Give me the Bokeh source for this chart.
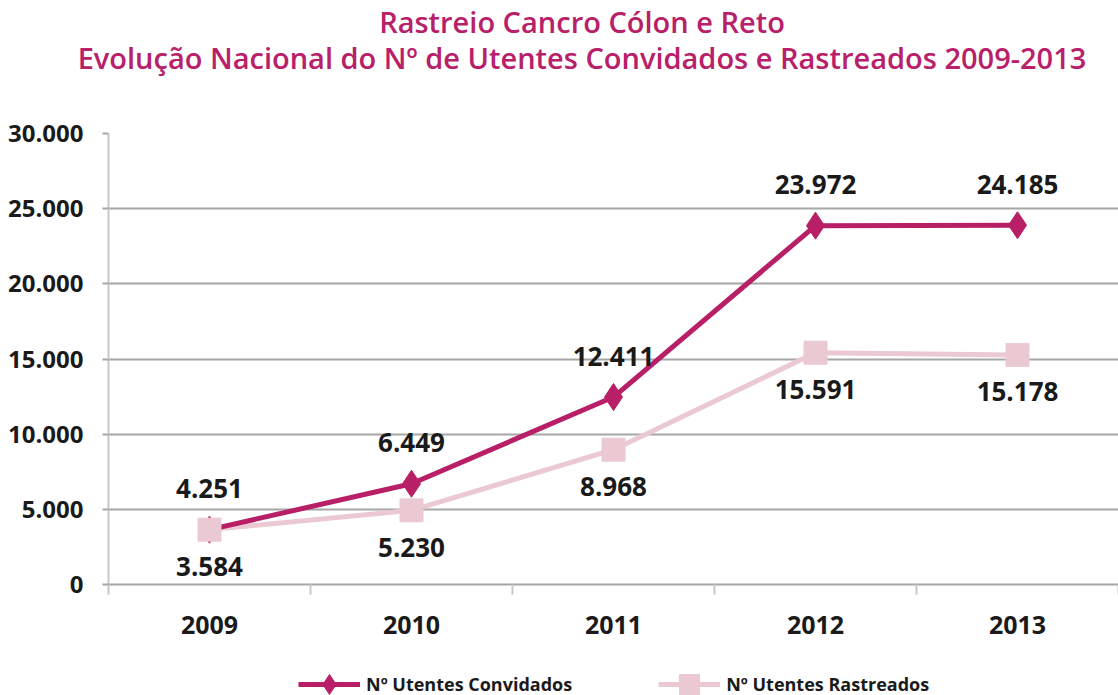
from bokeh.plotting import figure
from bokeh.models import ColumnDataSource, FixedTicker, Legend, LegendItem, Div, Range1d
from bokeh.layouts import column
from bokeh.embed import file_html
from bokeh.resources import INLINE
from bokeh.core.properties import value

# ---- data ----
years = ["2009", "2010", "2011", "2012", "2013"]
convidados = [3650, 6700, 12470, 23870, 23900]
convidados_labels = ["4.251", "6.449", "12.411", "23.972", "24.185"]
rastreados = [3650, 4930, 8968, 15420, 15270]
rastreados_labels = ["3.584", "5.230", "8.968", "15.591", "15.178"]
y_ticks = [0, 5000, 10000, 15000, 20000, 25000, 30000]
y_tick_labels = ["0", "5.000", "10.000", "15.000", "20.000", "25.000", "30.000"]

title_lines = ["Rastreio Cancro Cólon e Reto",
               "Evolução Nacional do Nº de Utentes Convidados e Rastreados 2009-2013"]
series_names = ["Nº Utentes Convidados", "Nº Utentes Rastreados"]

C_CONV = "#B81F66"
C_RAST = "#EBC9D3"
FONT = "Open Sans"
TXT = "#1A1A1A"

xc = [i + 0.5 for i in range(len(years))]
src_c = ColumnDataSource(dict(x=xc, y=convidados, t=convidados_labels))
src_r = ColumnDataSource(dict(x=xc, y=rastreados, t=rastreados_labels))

p = figure(width=1118, height=557, x_range=Range1d(0, len(years)), y_range=Range1d(0, 30000),
           output_backend="svg", toolbar_location=None,
           min_border_left=108, min_border_right=0, min_border_top=45, min_border_bottom=61)
p.margin = 0
p.outline_line_color = None
p.xgrid.grid_line_color = None
p.ygrid.grid_line_color = "#A6A6A6"
p.ygrid.grid_line_width = 2
p.ygrid.ticker = FixedTicker(ticks=y_ticks)

# y axis
p.yaxis.ticker = FixedTicker(ticks=y_ticks)
p.yaxis.major_label_overrides = {t: l for t, l in zip(y_ticks, y_tick_labels)}
p.yaxis.axis_line_color = "#C8C8C8"
p.yaxis.axis_line_width = 2
p.yaxis.major_tick_out = 6
p.yaxis.major_tick_in = 0
p.yaxis.major_tick_line_color = "#A6A6A6"
p.yaxis.major_tick_line_width = 2
p.yaxis.minor_tick_line_color = None
p.yaxis.major_label_standoff = 19
p.yaxis.major_label_text_font = FONT
p.yaxis.major_label_text_font_style = "bold"
p.yaxis.major_label_text_font_size = "24px"
p.yaxis.major_label_text_color = TXT

# x axis
p.xaxis.ticker = FixedTicker(ticks=xc, minor_ticks=list(range(len(years) + 1)))
p.xaxis.major_label_overrides = {x: y for x, y in zip(xc, years)}
p.xaxis.axis_line_color = "#A6A6A6"
p.xaxis.axis_line_width = 2
p.xaxis.major_tick_line_color = None
p.xaxis.major_tick_out = 0
p.xaxis.major_tick_in = 0
p.xaxis.minor_tick_out = 10
p.xaxis.minor_tick_in = 0
p.xaxis.minor_tick_line_color = "#C8C8C8"
p.xaxis.minor_tick_line_width = 2
p.xaxis.major_label_standoff = 21
p.xaxis.major_label_text_font = FONT
p.xaxis.major_label_text_font_style = "bold"
p.xaxis.major_label_text_font_size = "25px"
p.xaxis.major_label_text_color = TXT

# series
p.line("x", "y", source=src_r, line_color=C_RAST, line_width=5)
p.line("x", "y", source=src_c, line_color=C_CONV, line_width=5)
p.scatter("x", "y", source=src_c, marker="diamond", size=27, fill_color=C_CONV, line_color=C_CONV)
p.scatter("x", "y", source=src_r, marker="square", size=23, fill_color=C_RAST, line_color=C_RAST)

p.text("x", "y", text="t", source=src_c, y_offset=-41, text_align="center", text_baseline="middle",
       text_font=value(FONT), text_font_style="bold", text_font_size="26px", text_color=TXT)
p.text("x", "y", text="t", source=src_r, y_offset=37, text_align="center", text_baseline="middle",
       text_font=value(FONT), text_font_style="bold", text_font_size="26px", text_color=TXT)

# ---- legend strip (own small figure below the chart) ----
lf = figure(width=1118, height=50, x_range=Range1d(0, len(years)), y_range=Range1d(0, 30000),
            output_backend="svg", toolbar_location=None, x_axis_location=None, y_axis_location=None,
            min_border=0, min_border_left=0, min_border_right=0, min_border_top=0, min_border_bottom=0)
lf.margin = 0
lf.outline_line_color = None
lf.xgrid.grid_line_color = None
lf.ygrid.grid_line_color = None
g_lc = lf.line("x", "y", source=src_c, line_color=C_CONV, line_width=5, visible=False)
g_mc = lf.scatter("x", "y", source=src_c, marker="diamond", size=27, fill_color=C_CONV, line_color=C_CONV, visible=False)
g_lr = lf.line("x", "y", source=src_r, line_color=C_RAST, line_width=5, visible=False)
g_mr = lf.scatter("x", "y", source=src_r, marker="square", size=23, fill_color=C_RAST, line_color=C_RAST, visible=False)

legend = Legend(items=[LegendItem(label=series_names[0], renderers=[g_lc, g_mc]),
                       LegendItem(label=series_names[1], renderers=[g_lr, g_mr])],
                orientation="horizontal", location=(190, -14),
                glyph_width=62, glyph_height=50, label_standoff=6, spacing=86,
                padding=0, margin=0, border_line_color=None, background_fill_alpha=0,
                inactive_fill_alpha=0, click_policy="none",
                label_text_font=FONT, label_text_font_style="bold", label_text_font_size="18px",
                label_text_color=TXT)
lf.add_layout(legend, "center")

title_html = ('<div style="width:1100px;margin-left:32px;padding-top:4px;text-align:center;'
              "font-family:'Open Sans';font-weight:600;font-size:29px;line-height:36px;color:#B8206A;\">"
              + title_lines[0] + "<br>" + title_lines[1] + "</div>")
title = Div(text=title_html, width=1118, height=88, margin=0)

layout = column(title, p, lf, spacing=0)
layout.margin = 0

open("out.html", "w").write(file_html(layout, INLINE))
